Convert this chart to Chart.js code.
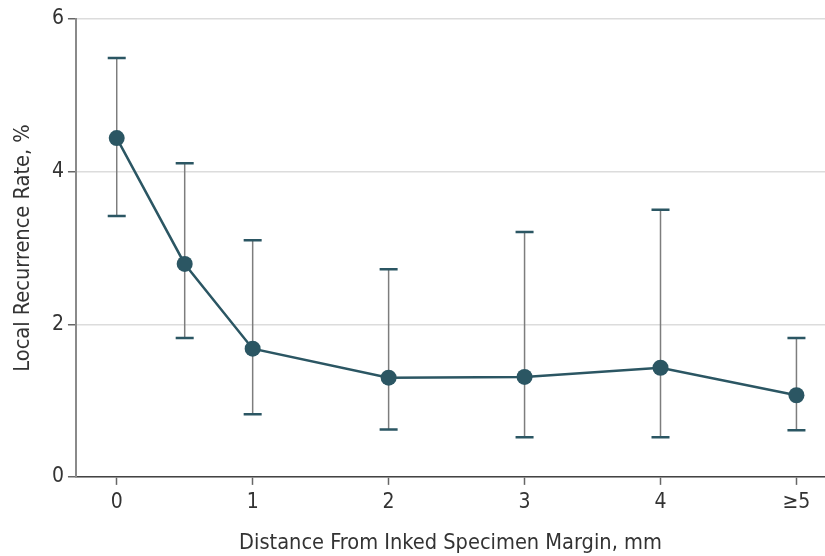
<!DOCTYPE html>
<html>
<head>
<meta charset="utf-8">
<script src="https://cdn.jsdelivr.net/npm/chart.js@4"></script>
<style>
  html, body { margin: 0; padding: 0; background: #fff; overflow: hidden; }
  #wrap { width: 825px; height: 556px; }
  canvas { display: block; }
</style>
</head>
<body>
<div id="wrap"><canvas id="recurrence" width="825" height="556"></canvas></div>
<script>
const distances = [0, 0.5, 1, 2, 3, 4, 5];
const rates = [4.44, 2.79, 1.68, 1.30, 1.31, 1.43, 1.07];
const ciLower = [3.42, 1.82, 0.82, 0.62, 0.52, 0.52, 0.61];
const ciUpper = [5.49, 4.11, 3.10, 2.72, 3.21, 3.50, 1.82];
const yTicks = [0, 2, 4, 6];

const teal = '#2b5663';
const fontFamily = '"Liberation Sans Narrow", "DejaVu Sans Condensed", "Liberation Sans", sans-serif';

const errorBars = {
  id: 'errorBars',
  beforeDatasetsDraw(chart) {
    const { ctx, scales } = chart;
    const x = scales.x, y = scales.y;
    ctx.save();
    distances.forEach((d, i) => {
      const px = x.getPixelForValue(d);
      const top = y.getPixelForValue(ciUpper[i]);
      const bot = y.getPixelForValue(ciLower[i]);
      ctx.strokeStyle = '#7d7d7d';
      ctx.lineWidth = 1.5;
      ctx.beginPath();
      ctx.moveTo(px, top);
      ctx.lineTo(px, bot);
      ctx.stroke();
      ctx.strokeStyle = teal;
      ctx.lineWidth = 2.5;
      ctx.beginPath();
      ctx.moveTo(px - 9, top);
      ctx.lineTo(px + 9, top);
      ctx.moveTo(px - 9, bot);
      ctx.lineTo(px + 9, bot);
      ctx.stroke();
    });
    ctx.restore();
  },
};

new Chart(document.getElementById('recurrence').getContext('2d'), {
  type: 'line',
  data: {
    datasets: [
      {
        data: distances.map((d, i) => ({ x: d, y: rates[i] })),
        borderColor: teal,
        backgroundColor: teal,
        borderWidth: 2.5,
        pointRadius: 8,
        pointHoverRadius: 8,
        pointBorderWidth: 0,
        tension: 0,
      },
    ],
  },
  options: {
    responsive: false,
    animation: false,
    layout: { autoPadding: false, padding: { top: 19, right: 0, left: 10, bottom: 0 } },
    plugins: {
      legend: { display: false },
      tooltip: { enabled: false },
    },
    scales: {
      x: {
        type: 'linear',
        min: -0.3,
        max: 5.21,
        afterBuildTicks(axis) {
          axis.ticks = [0, 1, 2, 3, 4, 5].map(v => ({ value: v }));
        },
        afterFit(axis) {
          axis.paddingLeft = 0;
          axis.paddingRight = 0;
        },
        ticks: {
          color: '#333',
          font: { family: fontFamily, size: 21 },
          padding: 5,
          callback: v => (v === 5 ? '≥5' : String(v)),
        },
        grid: {
          drawOnChartArea: false,
          tickLength: 8,
          tickColor: '#666',
          tickWidth: 1.5,
        },
        border: { color: '#444', width: 1.5 },
        title: {
          display: true,
          text: 'Distance From Inked Specimen Margin, mm',
          color: '#333',
          font: { family: fontFamily, size: 21.6 },
          padding: { top: 10, bottom: 0 },
        },
      },
      y: {
        min: 0,
        max: 6,
        afterBuildTicks(axis) {
          axis.ticks = yTicks.map(v => ({ value: v }));
        },
        afterFit(axis) {
          axis.paddingTop = 0;
          axis.paddingBottom = 0;
        },
        ticks: {
          color: '#333',
          font: { family: fontFamily, size: 21 },
          padding: 4,
        },
        grid: {
          color: '#dcdcdc',
          lineWidth: 1.5,
          tickLength: 8,
          tickColor: '#666',
          tickWidth: 1.5,
        },
        border: { color: '#8a8a8a', width: 2 },
        title: {
          display: true,
          text: 'Local Recurrence Rate, %',
          color: '#333',
          font: { family: fontFamily, size: 21.6 },
          padding: { top: 0, bottom: 12 },
        },
      },
    },
  },
  plugins: [errorBars],
});
</script>
</body>
</html>
